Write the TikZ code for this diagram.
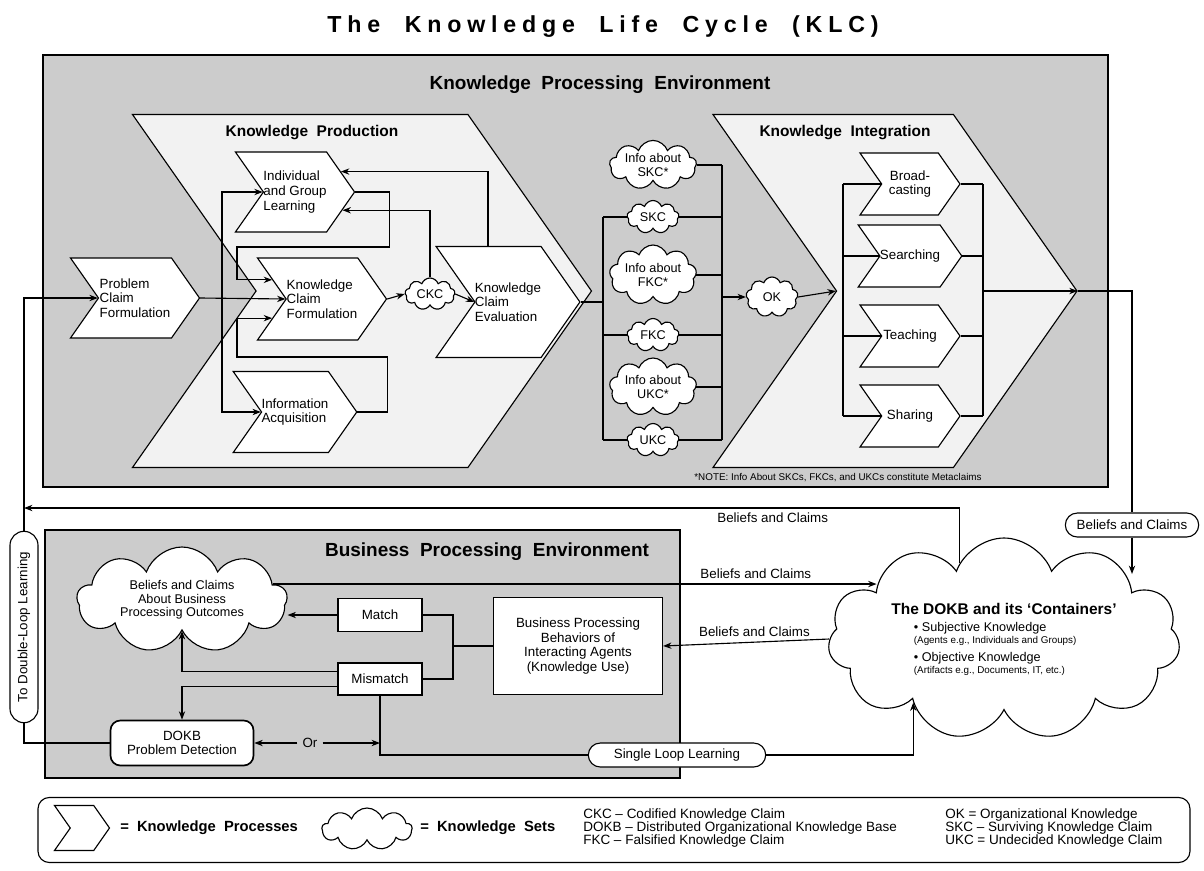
\documentclass[tikz,border=0pt]{standalone}
\usepackage{fontspec}
\setmainfont{Liberation Sans}
\newfontfamily\titlefont[LetterSpace=25]{Liberation Sans}
\usetikzlibrary{shapes.symbols,shapes.misc,calc,arrows.meta}
\definecolor{envgray}{gray}{0.80}
\definecolor{pale}{gray}{0.95}
\def\pxu{0.025cm}
\tikzset{
  proc/.style={signal, signal from=west, signal to=east, signal pointer angle=110,
    draw, thick, fill=white, inner sep=0pt, align=left, font=\fontsize{9.5}{10.5}\selectfont},
  big/.style={signal, signal from=west, signal to=east, signal pointer angle=110,
    draw, thick, fill=pale},
  kset/.style={cloud, cloud puffs=9, cloud puff arc=140, cloud ignores aspect, draw, thick, fill=white,
    inner sep=0pt, align=center, font=\fontsize{9}{9.5}\selectfont},
  box/.style={rectangle, draw, thick, fill=white, align=center, font=\fontsize{9.5}{10.5}\selectfont},
  pill/.style={rounded rectangle, draw, thick, fill=white, inner sep=2pt, font=\fontsize{9.5}{10.5}\selectfont},
  head/.style={font=\bfseries\fontsize{11}{12}\selectfont},
  envhead/.style={font=\bfseries\fontsize{13.5}{15}\selectfont},
  lbl/.style={font=\fontsize{9.5}{10.5}\selectfont},
  abbr/.style={anchor=west, align=left, font=\fontsize{9.6}{9.4}\selectfont},
}

\begin{document}
\begin{tikzpicture}[x=0.025cm, y=-0.025cm, >={Stealth[length=6pt,width=4.5pt]}, thick]
  \useasboundingbox (0,0) rectangle (1204,870);
  \node[font=\titlefont\bfseries\fontsize{16.5}{18}\selectfont] (title) at (603,27) {The\ \ Knowledge\ \ Life\ \ Cycle\ \ (KLC)};

  % 知识处理环境
  \draw[fill=envgray] (43,55) rectangle (1108,487);
  \node[envhead] (kpet) at (600,85) {Knowledge\ \ Processing\ \ Environment};
  \node[big, minimum width=459*\pxu, minimum height=353*\pxu] (kp) at (362,291) {};
  \node[big, minimum width=364*\pxu, minimum height=353*\pxu] (ki) at (895,291) {};
  \node[head] (kpt) at (312,133) {Knowledge\ \ Production};
  \node[head] (kit) at (845,133) {Knowledge\ \ Integration};

  \node[proc, minimum width=129*\pxu, minimum height=80*\pxu] (pcf) at (135,298) {Problem\\Claim\\Formulation};
  \node[proc, minimum width=115*\pxu, minimum height=80*\pxu] (igl) at (295,192) {Individual\\and Group\\Learning};
  \node[proc, minimum width=129*\pxu, minimum height=82*\pxu] (kcf) at (322,299) {Knowledge\\Claim\\Formulation};
  \node[proc, minimum width=116*\pxu, minimum height=81*\pxu] (ia) at (295,412) {Information\\Acquisition};
  \node[proc, minimum width=133*\pxu, minimum height=111*\pxu] (kce) at (508,302) {Knowledge\\Claim\\Evaluation};
  \node[kset, minimum width=50*\pxu, minimum height=32*\pxu] (ckc) at (430,294) {CKC};

  \node[kset, minimum width=87*\pxu, minimum height=46*\pxu] (isk) at (653,165) {Info about\\SKC*};
  \node[kset, minimum width=52*\pxu, minimum height=33*\pxu] (skc) at (653,217) {SKC};
  \node[kset, minimum width=87*\pxu, minimum height=60*\pxu] (ifk) at (653,275) {Info about\\FKC*};
  \node[kset, minimum width=52*\pxu, minimum height=33*\pxu] (fkc) at (653,335) {FKC};
  \node[kset, minimum width=87*\pxu, minimum height=58*\pxu] (iuk) at (653,387) {Info about\\UKC*};
  \node[kset, minimum width=52*\pxu, minimum height=33*\pxu] (ukc) at (653,440) {UKC};
  \node[kset, minimum width=52*\pxu, minimum height=40*\pxu] (ok) at (772,297) {OK};

  \node[proc, minimum width=100*\pxu, minimum height=62*\pxu, align=center] (bc) at (910,184) {Broad-\\casting};
  \node[proc, minimum width=100*\pxu, minimum height=62*\pxu] (sea) at (910,256) {Searching};
  \node[proc, minimum width=100*\pxu, minimum height=62*\pxu] (tea) at (910,336) {Teaching};
  \node[proc, minimum width=100*\pxu, minimum height=62*\pxu] (sha) at (910,416) {Sharing};
  \node[font=\fontsize{7}{8}\selectfont] (note) at (838,478) {*NOTE: Info About SKCs, FKCs, and UKCs constitute Metaclaims};

  % 知识生产内部连线
  \coordinate (kpb) at (pcf.east -| 222,0);
  \draw[->] (pcf.east) -- (kcf.west);
  \draw[->] (kpb) |- (igl.west);
  \draw[->] (kpb) |- (ia.west);
  \draw[->] (igl.east) -- ++(34,0) |- (237,247) |- (kcf.159);
  \draw[->] (ia.east) -- ++(30,0) |- (237,357) |- (kcf.201);
  \draw[->] ($(kce.north)+(-20,0)$) |- (igl.24);
  \draw[->] (ckc.north) |- (igl.-21);
  \draw[->] (kcf.east) -- (ckc.west);
  \draw[->] (ckc.east) -- (kce.west);

  % 知识集合与总线
  \coordinate (lb) at (603,0);
  \coordinate (rb) at (722,0);
  \draw (kce.east) -- (kce.east -| lb);
  \draw (skc.west -| lb) -- (ukc.west -| lb);
  \foreach \n in {skc,fkc,ukc}
    \draw (\n.west) -- (\n.west -| lb);
  \draw (isk.east -| rb) -- (ukc.east -| rb);
  \foreach \n in {isk,skc,ifk,fkc,iuk,ukc}
    \draw (\n.east) -- (\n.east -| rb);
  \draw[->] (ok.west -| rb) -- (ok.west);
  \draw[->] (ok.east) -- (ki.west);

  % 知识整合内部
  \coordinate (lb2) at (843,0);
  \coordinate (rb2) at (983,0);
  \draw (bc.west -| lb2) -- (sha.west -| lb2);
  \draw (bc.east -| rb2) -- (sha.east -| rb2);
  \foreach \n in {bc,sea,tea,sha}{
    \draw (\n.west -| lb2) -- (\n.west);
    \draw (\n.east) -- (\n.east -| rb2);
  }
  \draw[->] (ki.east -| rb2) -- (ki.east);

  % 业务处理环境
  \draw[fill=envgray] (45,530) rectangle (680,778);
  \node[envhead] (bpet) at (487,552) {Business\ \ Processing\ \ Environment};
  \node[kset, minimum width=210*\pxu, minimum height=106*\pxu] (boc) at (182,600) {Beliefs and Claims\\About Business\\Processing Outcomes};
  \node[box, minimum width=84*\pxu, minimum height=33*\pxu] (match) at (380,615) {Match};
  \node[box, minimum width=84*\pxu, minimum height=32*\pxu] (mism) at (380,679) {Mismatch};
  \node[box, minimum width=169*\pxu, minimum height=97*\pxu] (bpb) at (578,646) {Business Processing\\Behaviors of\\Interacting Agents\\(Knowledge Use)};
  \node[box, rounded corners=7pt, very thick, minimum width=143*\pxu, minimum height=45*\pxu] (dpd) at (182,743) {DOKB\\Problem Detection};
  \node[lbl] (orl) at (310,743) {Or};
  \node[pill, minimum width=183*\pxu, minimum height=24*\pxu] (sll) at (677,755) {Single Loop Learning};

  % DOKB 云
  \node[kset, cloud puffs=11, minimum width=352*\pxu, minimum height=202*\pxu, align=left] (dokb) at (1004,639)
    {{\bfseries\fontsize{11}{13}\selectfont The DOKB and its `Containers'}\\[3pt]
     \hspace{16pt}• Subjective Knowledge\\[-1pt]
     \hspace{16pt}{\fontsize{7}{8}\selectfont (Agents e.g., Individuals and Groups)}\\[3pt]
     \hspace{16pt}• Objective Knowledge\\[-1pt]
     \hspace{16pt}{\fontsize{7}{8}\selectfont (Artifacts e.g., Documents, IT, etc.)}};
  \node[pill, minimum width=139*\pxu, minimum height=24*\pxu] (bcl) at (1132,525) {Beliefs and Claims};
  \node[pill, rotate=90, minimum width=197*\pxu, minimum height=28*\pxu] (dll) at (24,627) {To Double-Loop Learning};
  \coordinate (dlltop) at (24,508);

  % 业务连线
  \coordinate (bus) at (453,646);
  \draw (bpb.west) -- (bus);
  \draw (match.east) -| (bus) |- (mism.east);
  \draw[->] (match.west) -- (match.west -| boc.east);
  \draw[->] (mism.170) -| (boc.south);
  \draw[->] (mism.190) -| (dpd.north);
  \draw[->] (orl) -- (dpd.east);
  \draw[->] (orl) -- (orl -| mism.south);
  \draw (mism.south) -- (mism.south |- sll) -- (sll.west);
  \draw[->] (sll.east) -| (dokb.215);

  % 信念与主张
  \draw[->] (boc.10) -- (boc.10 -| dokb.158) node[lbl, pos=0.8, above] {Beliefs and Claims};
  \draw[->] (dokb.west) -- (bpb.east) node[lbl, pos=0.45, above] {Beliefs and Claims};
  \draw[->] (dokb.120) |- (dlltop) node[lbl, pos=0.6, below] {Beliefs and Claims};
  \draw (ki.east) -| (bcl.north);
  \draw[->] (bcl.south) -- (bcl.south |- dokb.28);
  \draw (dpd.west) -| (dll.west);
  \draw[->] (dll.east) |- (pcf.west);

  % 图例
  \node[draw, rounded corners=8pt, minimum width=1152*\pxu, minimum height=65*\pxu] (leg) at (614,830) {};
  \node[proc, minimum width=55*\pxu, minimum height=45*\pxu] (lgp) at (82,828) {};
  \node[anchor=west, font=\bfseries\fontsize{10.5}{12}\selectfont] (lgpt) at (115,828) {=\ \ Knowledge\ \ Processes};
  \node[kset, minimum width=90*\pxu, minimum height=42*\pxu] (lgs) at (367,829) {};
  \node[anchor=west, font=\bfseries\fontsize{10.5}{12}\selectfont] (lgst) at (415,828) {=\ \ Knowledge\ \ Sets};
  \node[abbr] (ab1) at (578,828)
    {CKC – Codified Knowledge Claim\\DOKB – Distributed Organizational Knowledge Base\\FKC – Falsified Knowledge Claim};
  \node[abbr] (ab2) at (940,828)
    {OK = Organizational Knowledge\\SKC – Surviving Knowledge Claim\\UKC = Undecided Knowledge Claim};
\end{tikzpicture}
\end{document}
